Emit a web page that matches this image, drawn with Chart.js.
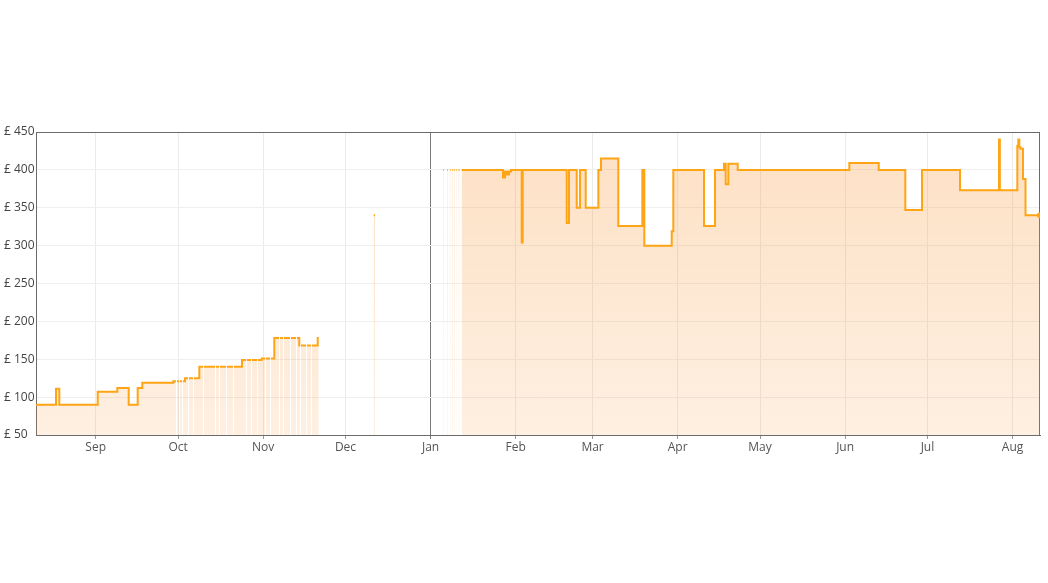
<!DOCTYPE html>
<html>
<head>
<meta charset="utf-8">
<script src="https://cdn.jsdelivr.net/npm/chart.js@4"></script>
<style>
  html, body { margin: 0; padding: 0; background: #fff; }
  canvas { display: block; }
</style>
</head>
<body>
<canvas id="priceChart" width="1048" height="583"></canvas>
<script>
// price change points (null = out of stock from that moment)
const priceDates = [
  "2022-08-10T06:00", "2022-08-17T13:00", "2022-08-18T18:00", "2022-09-01T17:30",
  "2022-09-08T21:00", "2022-09-13T00:30", "2022-09-16T07:00", "2022-09-17T23:30",
  "2022-09-29T06:30", "2022-10-03T12:45", "2022-10-08T18:00", "2022-10-24T07:00",
  "2022-10-31T11:00", "2022-11-05T01:30", "2022-11-14T04:00", "2022-11-20T21:00",
  "2022-11-21T06:00",
  "2022-12-11T06:00", "2022-12-11T18:00",
  "2023-01-05T12:00", "2023-01-05T18:00", "2023-01-07T00:00", "2023-01-07T06:00",
  "2023-01-08T00:00", "2023-01-08T06:00", "2023-01-08T20:00", "2023-01-09T02:00",
  "2023-01-09T14:00", "2023-01-09T20:00", "2023-01-10T10:00", "2023-01-10T16:00",
  "2023-01-11T04:00", "2023-01-11T12:00",
  "2023-01-12T08:00", "2023-01-27T09:00", "2023-01-28T02:40", "2023-01-28T20:00",
  "2023-01-29T13:40", "2023-01-30T07:00", "2023-02-03T04:30", "2023-02-03T13:00",
  "2023-02-19T14:00", "2023-02-20T10:00", "2023-02-23T05:30", "2023-02-24T10:20",
  "2023-02-26T12:00", "2023-03-03T02:30", "2023-03-04T02:00", "2023-03-10T09:00",
  "2023-03-19T03:00", "2023-03-19T20:30", "2023-03-29T20:00", "2023-03-30T10:00",
  "2023-04-10T14:30", "2023-04-14T14:40", "2023-04-17T21:20", "2023-04-18T12:00",
  "2023-04-19T11:00", "2023-04-22T21:00", "2023-06-02T13:00", "2023-06-13T06:00",
  "2023-06-22T22:30", "2023-06-29T00:30", "2023-07-12T20:40", "2023-07-27T01:40",
  "2023-07-27T08:40", "2023-08-02T17:45", "2023-08-03T02:30", "2023-08-03T11:15",
  "2023-08-03T21:40", "2023-08-04T19:30", "2023-08-05T17:15"
];
const prices = [
  90, 111, 90, 107,
  112, 90, 112, 119,
  121, 125, 140, 149,
  151, 178, 168, 178,
  null,
  340, null,
  400, null, 400, null,
  400, null, 400, null,
  400, null, 400, null,
  400, null,
  400, 390, 398, 394,
  398, 400, 304, 400,
  330, 400, 350, 400,
  350, 400, 415, 326,
  400, 300, 319, 400,
  326, 400, 408, 381,
  408, 400, 409, 400,
  347, 400, 373, 440,
  373, 432, 440, 430,
  428, 388, 340
];
// short stock-outs in Oct / Nov
const stockGaps = [
  ["2022-09-30T06:00", "2022-09-30T14:00"], ["2022-10-01T08:00", "2022-10-01T16:00"],
  ["2022-10-02T10:00", "2022-10-02T18:00"], ["2022-10-04T15:00", "2022-10-04T23:00"],
  ["2022-10-06T11:00", "2022-10-06T19:00"], ["2022-10-10T02:00", "2022-10-10T10:00"],
  ["2022-10-14T11:00", "2022-10-14T19:00"], ["2022-10-15T22:00", "2022-10-16T06:00"],
  ["2022-10-18T11:00", "2022-10-18T19:00"], ["2022-10-21T00:00", "2022-10-21T08:00"],
  ["2022-10-25T18:00", "2022-10-26T02:00"], ["2022-10-27T14:00", "2022-10-27T22:00"],
  ["2022-10-29T18:00", "2022-10-30T02:00"], ["2022-11-01T16:00", "2022-11-02T00:00"],
  ["2022-11-03T12:00", "2022-11-03T20:00"], ["2022-11-06T19:00", "2022-11-07T03:00"],
  ["2022-11-08T06:00", "2022-11-08T14:00"], ["2022-11-10T19:00", "2022-11-11T03:00"],
  ["2022-11-12T23:00", "2022-11-13T07:00"], ["2022-11-14T10:00", "2022-11-14T18:00"],
  ["2022-11-16T15:00", "2022-11-16T23:00"], ["2022-11-18T10:00", "2022-11-18T18:00"]
];
const tickLabels = ["Sep", "Oct", "Nov", "Dec", "Jan", "Feb", "Mar", "Apr", "May", "Jun", "Jul", "Aug"];
const tickDates = [
  "2022-09-01T00:00", "2022-10-01T00:00", "2022-11-01T00:00", "2022-12-01T00:00",
  "2023-01-01T00:00", "2023-02-01T00:00", "2023-03-01T00:00", "2023-04-01T00:00",
  "2023-05-01T00:00", "2023-06-01T00:00", "2023-07-01T00:00", "2023-08-01T00:00"
];
const yTicks = [50, 100, 150, 200, 250, 300, 350, 400, 450];
const rangeStart = "2022-08-10T06:00";
const rangeEnd = "2023-08-11T00:00";
const yearMark = "2023-01-01T00:00";

const toDay = (s) => Date.parse(s + ":00Z") / 864e5;

const priceAt = (x) => {
  let v = null;
  priceDates.forEach((d, i) => {
    if (toDay(d) <= x) v = prices[i];
  });
  return v;
};

const buildPoints = () => {
  const changes = priceDates.map((d, i) => ({ x: toDay(d), y: prices[i] }));
  stockGaps.forEach(([s, e]) => {
    changes.push({ x: toDay(e), y: priceAt(toDay(e)) });
    changes.push({ x: toDay(s), y: null });
  });
  changes.sort((a, b) => a.x - b.x);

  const pts = [];
  let last = null;
  changes.forEach((c) => {
    if (c.y === null && last !== null) pts.push({ x: c.x, y: last });
    pts.push(c);
    last = c.y;
  });
  pts.push({ x: toDay(rangeEnd), y: last });
  return pts;
};

const points = buildPoints();
const tickValues = tickDates.map(toDay);
const yearValue = toDay(yearMark);

const fillGradient = (context) => {
  const { ctx, chartArea } = context.chart;
  if (!chartArea) return "rgba(248,152,58,0.25)";
  const g = ctx.createLinearGradient(0, chartArea.top, 0, chartArea.bottom);
  g.addColorStop(0, "rgba(248,152,58,0.30)");
  g.addColorStop(1, "rgba(248,152,58,0.15)");
  return g;
};

const frame = {
  id: "frame",
  beforeDatasetsDraw(chart) {
    const { ctx, chartArea: a } = chart;
    ctx.save();
    ctx.strokeStyle = "#6b6b6b";
    ctx.lineWidth = 1;
    ctx.strokeRect(a.left + 0.5, a.top + 0.5, a.right - a.left - 1, a.bottom - a.top);
    ctx.restore();
  },
};

const font = { family: "'Open Sans', 'Noto Sans', sans-serif", size: 12 };

new Chart(document.getElementById("priceChart"), {
  type: "line",
  data: {
    datasets: [
      {
        label: "Amazon",
        data: points,
        stepped: true,
        spanGaps: false,
        borderColor: "#ffa414",
        borderWidth: 2,
        fill: "start",
        backgroundColor: fillGradient,
        pointRadius: (c) => (c.dataIndex === points.length - 1 ? 3 : 0),
        pointBackgroundColor: "#ffa414",
        pointBorderWidth: 0,
      },
    ],
  },
  options: {
    responsive: false,
    animation: false,
    layout: { padding: { top: 132, right: 8, bottom: 126, left: 4 } },
    plugins: { legend: { display: false }, tooltip: { enabled: false } },
    scales: {
      x: {
        type: "linear",
        min: toDay(rangeStart),
        max: toDay(rangeEnd),
        afterBuildTicks: (s) => {
          s.ticks = tickValues.map((v) => ({ value: v }));
        },
        afterFit: (s) => {
          s.height = 22;
        },
        ticks: {
          autoSkip: false,
          maxRotation: 0,
          padding: 1,
          color: "#555",
          font,
          callback: (v, i) => tickLabels[i],
        },
        grid: {
          color: (c) => (c.tick && c.tick.value === yearValue ? "#7a7a7a" : "#ebebeb"),
          tickColor: (c) => (c.tick && c.tick.value === yearValue ? "#7a7a7a" : "#999"),
          tickLength: 4,
        },
        border: { color: "#6b6b6b" },
      },
      y: {
        min: 50,
        max: 450,
        afterBuildTicks: (s) => {
          s.ticks = yTicks.map((v) => ({ value: v }));
        },
        afterFit: (s) => {
          s.width = 32;
        },
        ticks: {
          crossAlign: "far",
          padding: 4,
          color: "#444",
          font,
          callback: (v) => "£ " + v,
        },
        grid: { color: "#efefef", drawTicks: false },
        border: { color: "#6b6b6b" },
      },
    },
  },
  plugins: [frame],
});
</script>
</body>
</html>
